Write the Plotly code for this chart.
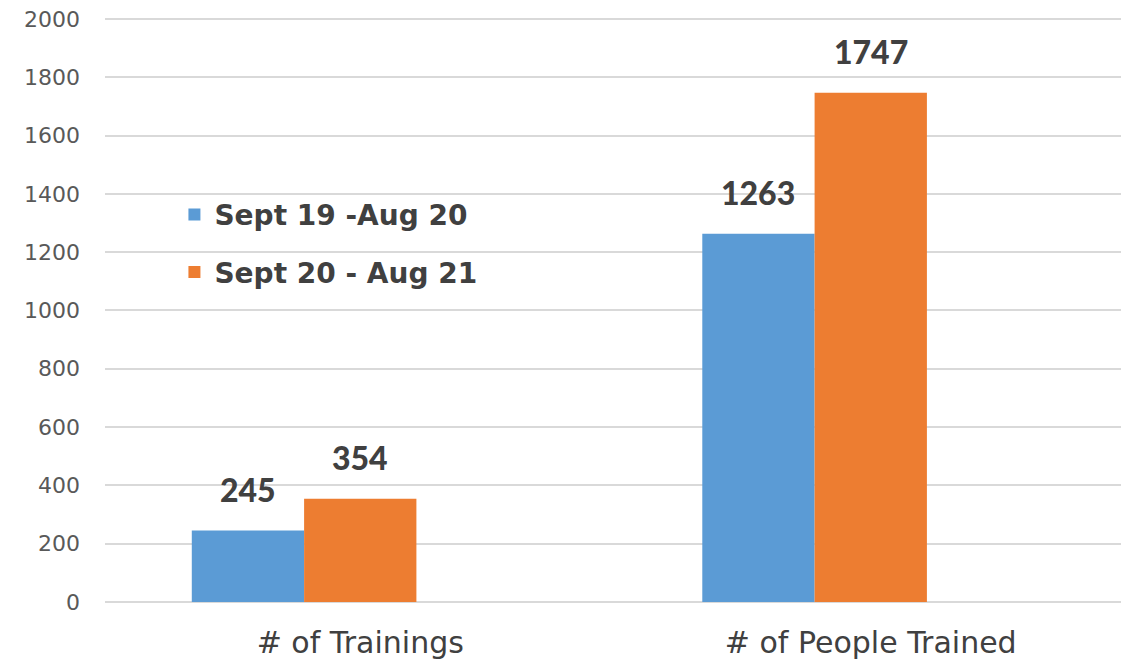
import plotly.graph_objects as go

categories = ["# of Trainings", "# of People Trained"]
series_names = ["Sept 19 -Aug 20", "Sept 20 - Aug 21"]
values_1920 = [245, 1263]
values_2021 = [354, 1747]
y_ticks = [0, 200, 400, 600, 800, 1000, 1200, 1400, 1600, 1800, 2000]

colors = ["#5B9BD5", "#ED7D31"]
offsets = [-0.33, -0.11]
bar_w = 0.22
label_font = "Lato, 'Open Sans', sans-serif"
axis_font = "'DejaVu Sans', sans-serif"

fig = go.Figure()
annotations = []
for i, (name, vals) in enumerate(zip(series_names, [values_1920, values_2021])):
    fig.add_trace(go.Bar(
        x=categories, y=vals, name=name,
        marker=dict(color=colors[i], line=dict(width=0)),
        width=bar_w, offset=offsets[i],
        legendgroup=f"g{i}",
    ))
    for j, v in enumerate(vals):
        annotations.append(dict(
            x=j + offsets[i] + bar_w / 2, y=v, xref="x", yref="y",
            text=str(v), showarrow=False, yanchor="bottom", yshift=20,
            font=dict(family=label_font, size=32, color="#404040", weight=900),
        ))

fig.update_layout(
    width=1129, height=669,
    margin=dict(l=97, r=11, t=8, b=75),
    paper_bgcolor="white", plot_bgcolor="white",
    barmode="overlay",
    showlegend=True,
    legend=dict(
        x=0.068, y=0.7034, xanchor="left", yanchor="top",
        font=dict(family=axis_font, size=28, color="#404040", weight="bold"),
        bgcolor="rgba(0,0,0,0)", tracegroupgap=18, traceorder="grouped",
    ),
    annotations=annotations,
)
fig.update_yaxes(
    range=[0, 2010], tickvals=y_ticks, ticktext=[str(t) for t in y_ticks],
    showgrid=True, gridcolor="#D9D9D9", gridwidth=1.5,
    zeroline=True, zerolinecolor="#D9D9D9", zerolinewidth=1.5,
    showline=False, ticks="", automargin=False,
    tickfont=dict(family=axis_font, size=22, color="#595959"),
    ticklabelstandoff=24, ticklabeloverflow="allow",
)
fig.update_xaxes(
    range=[-0.5, 1.5], showgrid=False, showline=False, ticks="", automargin=False,
    tickfont=dict(family=axis_font, size=30, color="#404040"),
    ticklabelstandoff=20, ticklabeloverflow="allow",
)

fig.write_html("out.html")
